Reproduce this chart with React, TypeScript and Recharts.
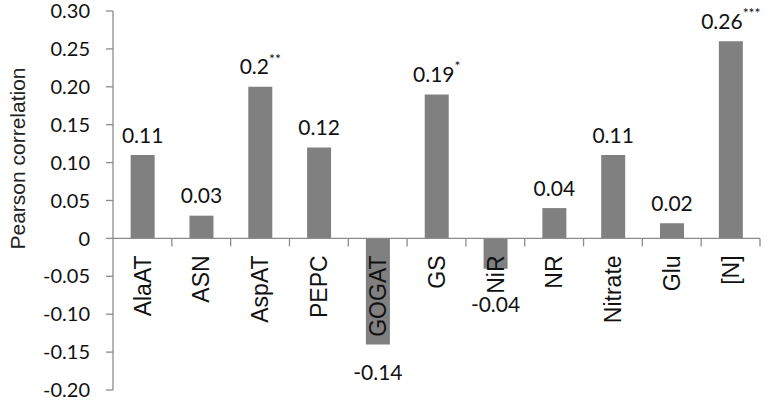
import React from "react";
import { BarChart, Bar, XAxis, YAxis, ReferenceLine, LabelList } from "recharts";

// --- chart data ---
const categories = ["AlaAT", "ASN", "AspAT", "PEPC", "GOGAT", "GS", "NiR", "NR", "Nitrate", "Glu", "[N]"];
const values = [0.11, 0.03, 0.2, 0.12, -0.14, 0.19, -0.04, 0.04, 0.11, 0.02, 0.26];
const valueLabels = ["0.11", "0.03", "0.2", "0.12", "-0.14", "0.19", "-0.04", "0.04", "0.11", "0.02", "0.26"];
const significance = ["", "", "**", "", "", "*", "", "", "", "", "***"];
const yTicks = [-0.2, -0.15, -0.1, -0.05, 0, 0.05, 0.1, 0.15, 0.2, 0.25, 0.3];

const NUM_FONT = "Lato, 'Open Sans', sans-serif";
const TXT_FONT = "'Liberation Sans', Arial, sans-serif";
const BAR = "#808080";
const AXIS = "#8c8c8c";

const data = categories.map((name, i) => ({ name, value: values[i] }));

// bar ends: returns [zeroY, endY] for a bar rect
function barEnds(y: number, height: number, v: number) {
  const a = y;
  const b = y + height;
  return v >= 0 ? [Math.max(a, b), Math.min(a, b)] : [Math.min(a, b), Math.max(a, b)];
}

const ValueLabel = (props: any) => {
  const { x, y, width, height, value, index } = props;
  const v = Number(value);
  const i = typeof index === "number" ? index : values.indexOf(v);
  const [zeroY, endY] = barEnds(Number(y), Number(height), v);
  const cx = Number(x) + Number(width) / 2;
  // negative labels sit under the bar, clear of the category text
  const ty = v >= 0 ? endY - 21 : Math.max(endY + 27, zeroY + 65);
  return (
    <text x={cx} y={ty} textAnchor="middle" dominantBaseline="central" fontFamily={NUM_FONT} fontSize={21} fill="#111">
      {valueLabels[i]}
      {significance[i] ? (
        <tspan dy={-8} fontSize={14}>
          {significance[i]}
        </tspan>
      ) : null}
    </text>
  );
};

const CategoryLabel = (props: any) => {
  const { x, y, width, height, value } = props;
  const i = categories.indexOf(String(value));
  const [zeroY] = barEnds(Number(y), Number(height), values[i]);
  const cx = Number(x) + Number(width) / 2;
  const ty = zeroY + 17;
  return (
    <text
      x={cx}
      y={ty}
      transform={`rotate(-90 ${cx} ${ty})`}
      textAnchor="end"
      dominantBaseline="central"
      fontFamily={TXT_FONT}
      fontSize={23}
      fill="#111"
    >
      {value}
    </text>
  );
};

// zero line with tick marks between categories
const ZeroAxis = (props: any) => {
  const { x1, x2, y1 } = props;
  const n = categories.length;
  const step = (x2 - x1) / n;
  const marks = [];
  for (let i = 1; i <= n; i++) {
    const tx = x1 + i * step;
    marks.push(<line key={i} x1={tx} x2={tx} y1={y1} y2={y1 + 8} stroke={AXIS} strokeWidth={1.3} />);
  }
  return (
    <g>
      <line x1={x1} x2={x2} y1={y1} y2={y1} stroke={AXIS} strokeWidth={1.3} />
      {marks}
    </g>
  );
};

const YTitle = (props: any) => {
  const vb = props.viewBox || {};
  const cx = 17;
  const cy = (vb.y ?? 11) + (vb.height ?? 379) / 2 - 42;
  return (
    <text
      x={cx}
      y={cy}
      transform={`rotate(-90 ${cx} ${cy})`}
      textAnchor="middle"
      dominantBaseline="central"
      fontFamily={TXT_FONT}
      fontSize={21}
      fill="#222"
    >
      Pearson correlation
    </text>
  );
};

export default function App() {
  return (
    <div style={{ position: "absolute", left: 0, top: 0, width: 774, height: 400, background: "#fff" }}>
      <BarChart
        width={774}
        height={400}
        data={data}
        margin={{ top: 11, right: 14, bottom: 10, left: 0 }}
        barCategoryGap="30%"
      >
        <XAxis dataKey="name" hide />
        <YAxis
          width={113}
          domain={[-0.2, 0.3]}
          ticks={yTicks}
          interval={0}
          allowDataOverflow
          axisLine={{ stroke: AXIS, strokeWidth: 1.3 }}
          tickLine={{ stroke: AXIS, strokeWidth: 1.3 }}
          tickSize={7}
          tickMargin={16}
          tick={{ fontFamily: NUM_FONT, fontSize: 20, fill: "#111" }}
          tickFormatter={(v: number) => (v === 0 ? "0" : v.toFixed(2))}
          label={{ content: YTitle }}
        />
        <ReferenceLine y={0} shape={ZeroAxis} ifOverflow="extendDomain" />
        <Bar dataKey="value" fill={BAR} isAnimationActive={false}>
          <LabelList dataKey="value" content={ValueLabel} />
          <LabelList dataKey="name" content={CategoryLabel} />
        </Bar>
      </BarChart>
    </div>
  );
}
